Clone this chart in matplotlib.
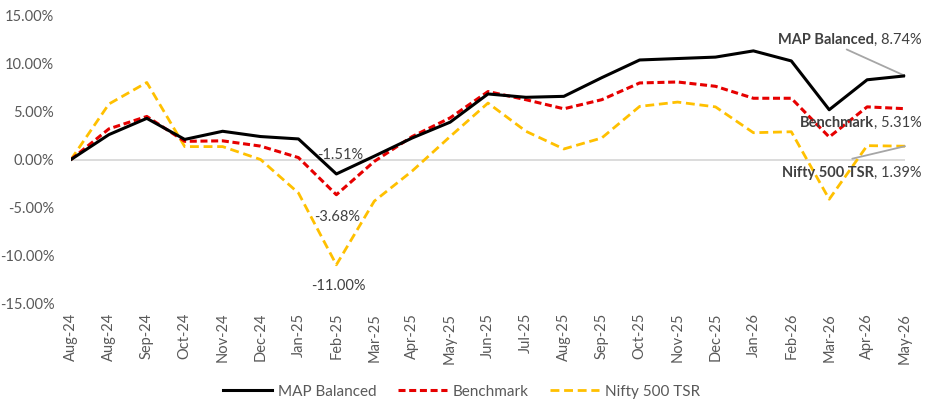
import matplotlib.pyplot as plt
from matplotlib.ticker import FuncFormatter

plt.rcParams['font.family'] = ['Lato', 'DejaVu Sans']

months = ['Aug-24', 'Aug-24', 'Sep-24', 'Oct-24', 'Nov-24', 'Dec-24', 'Jan-25', 'Feb-25',
          'Mar-25', 'Apr-25', 'May-25', 'Jun-25', 'Jul-25', 'Aug-25', 'Sep-25', 'Oct-25',
          'Nov-25', 'Dec-25', 'Jan-26', 'Feb-26', 'Mar-26', 'Apr-26', 'May-26']
map_balanced = [0.0, 2.6, 4.3, 2.1, 2.95, 2.4, 2.15, -1.51, 0.35, 2.25, 3.9, 6.85,
                6.5, 6.6, 8.55, 10.4, 10.55, 10.7, 11.35, 10.3, 5.2, 8.33, 8.74]
benchmark = [0.0, 3.2, 4.5, 1.9, 1.95, 1.4, 0.2, -3.68, -0.2, 2.4, 4.35, 7.1,
             6.25, 5.3, 6.25, 8.0, 8.1, 7.65, 6.4, 6.4, 2.35, 5.5, 5.31]
nifty500 = [0.0, 5.8, 8.05, 1.35, 1.35, 0.0, -3.5, -11.0, -4.35, -1.2, 2.4, 5.9,
            2.95, 1.1, 2.25, 5.55, 6.0, 5.5, 2.8, 2.9, -4.15, 1.45, 1.39]

grey = '#595959'
x = list(range(len(months)))

fig = plt.figure(figsize=(9.34, 4.09), dpi=100)
ax = fig.add_axes([0.076, 0.259, 0.893, 0.702])

ax.axhline(0, color='#d9d9d9', lw=1.3, zorder=1)
ax.plot(x, map_balanced, color='black', lw=2.2, label='MAP Balanced', zorder=4)
ax.plot(x, benchmark, color='#e60000', lw=2.2, ls=(0, (2.3, 1.2)), label='Benchmark', zorder=3)
ax.plot(x, nifty500, color='#ffc000', lw=2.0, ls=(0, (3.2, 1.7)), label='Nifty 500 TSR', zorder=2)

ax.set_xlim(0, len(months) - 1)
ax.set_ylim(-15, 15)
ax.set_yticks([-15, -10, -5, 0, 5, 10, 15])
ax.yaxis.set_major_formatter(FuncFormatter(lambda v, p: f'{v:.2f}%'))
ax.set_xticks(x)
ax.set_xticklabels(months, rotation=90)
ax.tick_params(length=0, colors=grey, labelsize=10.5)
ax.tick_params(axis='y', pad=12)
ax.tick_params(axis='x', pad=7)
for s in ax.spines.values():
    s.set_visible(False)

# labels at Feb-25 trough
ax.annotate(f'{map_balanced[7]:.2f}%', (7, map_balanced[7]), xytext=(-14, 14),
            textcoords='offset points', color='#404040', fontsize=10.5, va='center')
ax.annotate(f'{benchmark[7]:.2f}%', (7, benchmark[7]), xytext=(-16, -16),
            textcoords='offset points', color='#404040', fontsize=10.5, va='center')
ax.annotate(f'{nifty500[7]:.2f}%', (7, nifty500[7]), xytext=(-18, -15),
            textcoords='offset points', color='#404040', fontsize=10.5, va='center')

# end labels
last = len(months) - 1
ax.annotate('', (last, map_balanced[-1]), xytext=(-42, 19), textcoords='offset points',
            arrowprops=dict(arrowstyle='-', color='#a6a6a6', lw=1.3, shrinkA=0, shrinkB=0))
ax.annotate('', (last, nifty500[-1]), xytext=(-38, -9), textcoords='offset points',
            arrowprops=dict(arrowstyle='-', color='#a6a6a6', lw=1.3, shrinkA=0, shrinkB=0))


def end_label(name, val, y_off):
    t = ax.annotate(f', {val:.2f}%', (last, val), xytext=(12, y_off), textcoords='offset points',
                    ha='right', va='center', color='#404040', fontsize=10.5)
    ax.annotate(name, xy=(0, 0.5), xycoords=t, ha='right', va='center',
                color='#404040', fontsize=10.5, fontweight='bold')


end_label('MAP Balanced', map_balanced[-1], 26)
end_label('Benchmark', benchmark[-1], -10)
end_label('Nifty 500 TSR', nifty500[-1], -19)

leg = fig.legend(loc='center', bbox_to_anchor=(0.494, 0.042), ncol=3, frameon=False,
                 fontsize=11, handlelength=3.2, columnspacing=1.4, handletextpad=0.4)
for t in leg.get_texts():
    t.set_color(grey)

fig.savefig('out.png', dpi=100)
